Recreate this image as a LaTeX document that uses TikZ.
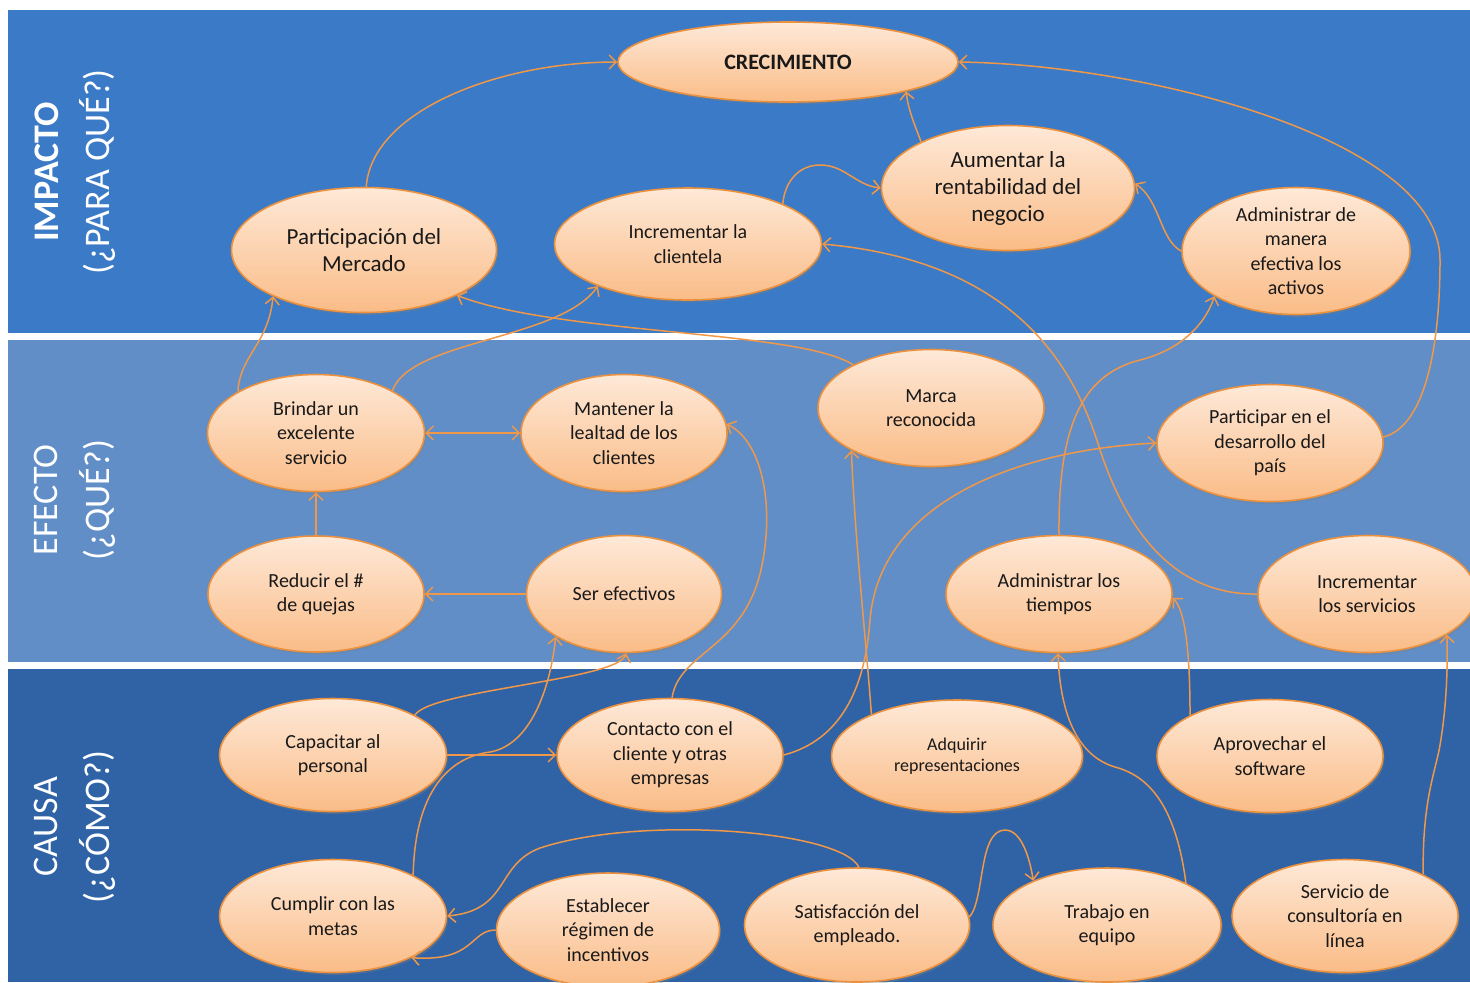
\documentclass[tikz,border=0pt]{standalone}
\usepackage{fontspec}
\setmainfont{Carlito}
\usetikzlibrary{shapes.geometric,arrows.meta,shadows}
\definecolor{bandA}{RGB}{59,122,198}
\definecolor{bandB}{RGB}{97,142,199}
\definecolor{bandC}{RGB}{48,99,166}
\definecolor{ellTop}{RGB}{254,233,216}
\definecolor{ellBot}{RGB}{250,188,135}
\definecolor{ellLine}{RGB}{236,146,62}
\definecolor{conn}{RGB}{240,152,72}
\definecolor{txtC}{RGB}{25,25,25}
\tikzset{
 ell/.style={ellipse, draw=ellLine, line width=0.8pt, top color=ellTop, bottom color=ellBot, inner sep=0pt,
   drop shadow={opacity=0.35, shadow xshift=0.8pt, shadow yshift=-1.2pt}},
 etxt/.style={align=center, text=txtC, inner sep=0pt, font=\fontsize{10}{12.2}\selectfont},
 fbig/.style={font=\fontsize{11.5}{13.5}\selectfont},
 fsmall/.style={font=\fontsize{9}{10.5}\selectfont},
 fcre/.style={font=\fontsize{11}{13}\selectfont\bfseries},
 conx/.style={draw=conn, line width=0.75pt, -{Straight Barb[length=3.5pt,width=7pt]}},
 bandlbl/.style={text=white, align=center, rotate=90, font=\fontsize{18}{25.75}\selectfont, inner sep=0pt},
}
\newcommand\EL[6]{%
 \node[ell, minimum width=#3, minimum height=#4] (#1) at (#2) {};
 \node[etxt, #5] (#1-t) at (#1.center) {#6};}
\begin{document}
\begin{tikzpicture}[x=0.5pt,y=-0.5pt]
\useasboundingbox (0,0) rectangle (1470,982);
\fill[white] (0,0) rectangle (1470,982);
\fill[bandA] (8,10) rectangle (1470,333);
\fill[bandB] (8,340) rectangle (1470,662);
\fill[bandC] (8,669) rectangle (1470,982);

\node[bandlbl] (limp) at (75,172) {\textbf{IMPACTO}\\(¿PARA QUÉ?)};
\node[bandlbl] (lefe) at (75,500) {EFECTO\\(¿QUÉ?)};
\node[bandlbl] (lcau) at (75,827) {CAUSA\\(¿CÓMO?)};

\EL{cre}{788,62}{170pt}{40pt}{fcre}{CRECIMIENTO}
\EL{part}{364,250}{132.5pt}{62.5pt}{fbig}{Participación del\\Mercado}
\EL{incl}{688,244}{133.5pt}{56pt}{}{Incrementar la\\clientela}
\EL{aum}{1008,188}{126.5pt}{62.5pt}{fbig}{Aumentar la\\rentabilidad del\\negocio}
\EL{adma}{1296,251}{114pt}{63.5pt}{}{Administrar de\\manera\\efectiva los\\activos}
\EL{brin}{316,433}{108.5pt}{58.5pt}{}{Brindar un\\excelente\\servicio}
\EL{mant}{624,433}{103pt}{58.5pt}{}{Mantener la\\lealtad de los\\clientes}
\EL{marca}{931,408}{113pt}{58.5pt}{}{Marca\\reconocida}
\EL{pais}{1270,443}{113pt}{58.5pt}{}{Participar en el\\desarrollo del\\país}
\EL{red}{316,594}{108pt}{58pt}{}{Reducir el \#\\de quejas}
\EL{ser}{624,594}{97.5pt}{58.5pt}{}{Ser efectivos}
\EL{adti}{1059,594}{113pt}{58.5pt}{}{Administrar los\\tiempos}
\EL{inse}{1367,594}{109pt}{58.5pt}{}{Incrementar\\los servicios}
\EL{cap}{333,755}{113.5pt}{56.5pt}{}{Capacitar al\\personal}
\EL{cont}{670,755}{113pt}{56.5pt}{}{Contacto con el\\cliente y otras\\empresas}
\EL{adq}{957,756}{125.5pt}{56pt}{fsmall}{Adquirir\\representaciones}
\EL{apro}{1270,756}{113pt}{56.5pt}{}{Aprovechar el\\software}
\EL{cum}{333,916}{113.5pt}{56.5pt}{}{Cumplir con las\\metas}
\EL{est}{608,930}{111.5pt}{57pt}{}{Establecer\\régimen de\\incentivos}
\EL{sat}{857,925}{112.5pt}{57pt}{}{Satisfacción del\\empleado.}
\EL{trab}{1107,925}{114pt}{57pt}{}{Trabajo en\\equipo}
\EL{serv}{1345,916}{113pt}{56.5pt}{}{Servicio de\\consultoría en\\línea}

\draw[conx] (part.88) .. controls (372,110) and (500,62) .. (cre.west);
\draw[conx] (aum.152) .. controls (912,118) and (908,108) .. (cre.-14);
\draw[conx] (incl.23) .. controls (785,180) and (800,165) .. (820,165) .. controls (845,165) and (855,185) .. (aum.west);
\draw[conx] (adma.west) .. controls (1160,240) and (1160,200) .. (aum.2);
\draw[conx] (pais.3) .. controls (1430,425) and (1440,330) .. (1440,260) .. controls (1440,140) and (1150,65) .. (cre.east);
\draw[conx] (brin.152) .. controls (240,355) and (268,345) .. (part.207);
\draw[conx] (brin.29) .. controls (410,340) and (560,340) .. (incl.205);
\draw[conx] (marca.151) .. controls (800,330) and (560,335) .. (part.-26);
\draw[conx, {Straight Barb[length=3.5pt,width=7pt]}-{Straight Barb[length=3.5pt,width=7pt]}] (brin.east) -- (mant.west);
\draw[conx] (red.north) -- (brin.south);
\draw[conx] (ser.west) -- (red.east);
\draw[conx] (cap.26) .. controls (430,690) and (618,680) .. (ser.-88);
\draw[conx] (cap.east) -- (cont.west);
\draw[conx] (cum.27) .. controls (415,790) and (450,757) .. (490,752) .. controls (530,745) and (550,690) .. (ser.212);
\draw[conx] (cont.88) .. controls (680,650) and (745,650) .. (762,565) .. controls (775,500) and (760,440) .. (mant.5);
\draw[conx] (cont.east) .. controls (840,740) and (865,690) .. (870,620) .. controls (880,500) and (1020,450) .. (pais.west);
\draw[conx] (adq.154) .. controls (866,640) and (855,540) .. (marca.208);
\draw[conx] (adti.north) .. controls (1058,430) and (1080,375) .. (1140,360) .. controls (1180,350) and (1205,325) .. (adma.209);
\draw[conx] (inse.west) .. controls (1180,595) and (1130,540) .. (1100,450) .. controls (1070,350) and (1000,260) .. (incl.east);
\draw[conx] (apro.153) .. controls (1190,650) and (1185,610) .. (adti.-2);
\draw[conx] (serv.28) .. controls (1422,800) and (1436,770) .. (1440,745) .. controls (1446,710) and (1448,670) .. (inse.-27);
\draw[conx] (trab.28) .. controls (1175,800) and (1145,775) .. (1115,767) .. controls (1075,755) and (1060,710) .. (adti.-91);
\draw[conx] (sat.4) .. controls (985,900) and (978,830) .. (1005,830) .. controls (1022,830) and (1030,860) .. (trab.149);
\draw[conx] (sat.88) .. controls (840,830) and (640,815) .. (540,848) .. controls (495,865) and (510,910) .. (cum.east);
\draw[conx] (est.west) .. controls (470,930) and (475,962) .. (cum.-28);
\end{tikzpicture}
\end{document}
